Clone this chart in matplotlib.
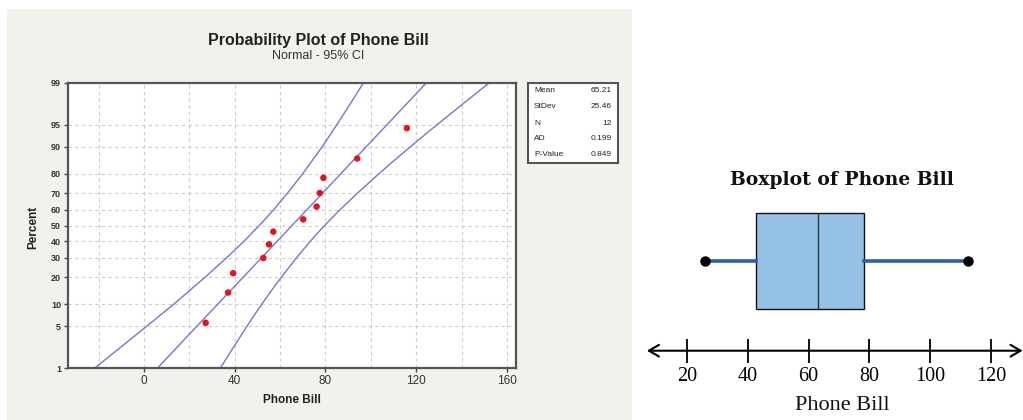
import numpy as np
import matplotlib
matplotlib.use("Agg")
import matplotlib.pyplot as plt
from matplotlib.patches import Rectangle
from matplotlib.ticker import FixedLocator, NullFormatter
from statistics import NormalDist

# ---------------- data ----------------
bill = [27.2, 37.1, 39.3, 52.6, 55.1, 57.0, 70.2, 76.1, 77.5, 79.1, 94.0, 115.9]
pct = [5.6, 13.7, 21.8, 29.8, 37.9, 46.0, 54.0, 62.1, 70.2, 78.2, 86.3, 94.4]

band_pct = [1, 2, 3, 5, 7, 10, 15, 20, 30, 40, 50, 60, 70, 80, 85, 90, 93, 95, 97, 98, 99]
fit_x = [6.0, 12.9, 17.3, 23.3, 27.6, 32.6, 38.8, 43.8, 51.9, 58.8, 65.2,
         71.7, 78.6, 86.7, 91.6, 97.9, 102.8, 107.1, 113.1, 117.5, 124.4]
lower_x = [-21.7, -12.5, -6.7, 1.2, 6.8, 13.2, 20.9, 27.0, 36.5, 44.2, 50.8,
           57.1, 63.2, 69.9, 73.7, 78.5, 82.0, 85.0, 89.1, 92.1, 96.7]
upper_x = [33.7, 38.3, 41.3, 45.4, 48.4, 52.0, 56.7, 60.6, 67.3, 73.4, 79.6,
           86.3, 94.0, 103.5, 109.5, 117.3, 123.6, 129.2, 137.1, 142.9, 152.1]

pct_ticks = [1, 5, 10, 20, 30, 40, 50, 60, 70, 80, 90, 95, 99]
bill_ticks = [0, 40, 80, 120, 160]
grid_minor = [-20, 20, 60, 100, 140]

stat_names = ["Mean", "StDev", "N", "AD", "P-Value"]
stat_values = ["65.21", "25.46", "12", "0.199", "0.849"]

box_min = 26.0
box_q1 = 42.8
box_med = 63.2
box_q3 = 78.1
box_max = 112.3
line_ticks = [20, 40, 60, 80, 100, 120]

# ---------------- figure ----------------
W, H = 1023, 420
fig = plt.figure(figsize=(W / 100, H / 100), dpi=100, facecolor="white")

def fx(px):
    return px / W

def fy(py):
    return 1 - py / H

# beige panel for the probability plot
fig.patches.append(Rectangle((fx(7), 0), fx(632) - fx(7), fy(9), transform=fig.transFigure,
                             facecolor="#f3f1ec", edgecolor="none", zorder=-10))

nd = NormalDist()
_inv = np.vectorize(lambda v: nd.inv_cdf(v / 100.0), otypes=[float])
_cdf = np.vectorize(lambda v: nd.cdf(v) * 100.0, otypes=[float])

def fwd(p):
    p = np.clip(np.asarray(p, dtype=float), 1e-9, 100 - 1e-9)
    return _inv(p)

def inv(z):
    return _cdf(np.asarray(z, dtype=float))

sans = ["Liberation Sans", "DejaVu Sans"]

ax = fig.add_axes([fx(68), fy(368), fx(516) - fx(68), fy(83) - fy(368)])
ax.set_zorder(2)
ax.set_facecolor("white")
ax.set_yscale("function", functions=(fwd, inv))
ax.set_ylim(1, 99)
ax.set_xlim(-33.5, 164)

ax.yaxis.set_major_locator(FixedLocator(pct_ticks))
ax.yaxis.set_minor_locator(FixedLocator([]))
ax.set_yticklabels([str(t) for t in pct_ticks], fontsize=6.5, fontweight="bold",
                   family=sans, color="#333333")
ax.xaxis.set_major_locator(FixedLocator(bill_ticks))
ax.xaxis.set_minor_locator(FixedLocator(grid_minor))
ax.xaxis.set_minor_formatter(NullFormatter())
ax.set_xticklabels([str(t) for t in bill_ticks], fontsize=8.5, family=sans, color="#333333")
ax.tick_params(axis="both", which="major", direction="out", length=3, width=1,
               color="#444444", pad=2)
ax.tick_params(axis="x", which="minor", length=0)

ax.grid(True, which="both", axis="x", color="#cccccc", linestyle=(0, (3, 3)), linewidth=0.8)
ax.grid(True, which="major", axis="y", color="#cccccc", linestyle=(0, (3, 3)), linewidth=0.8)
ax.set_axisbelow(True)
for s in ax.spines.values():
    s.set_color("#555555")
    s.set_linewidth(1.6)

line_col = "#7676cc"
ax.plot(lower_x, band_pct, color=line_col, lw=1.0, zorder=2)
ax.plot(fit_x, band_pct, color=line_col, lw=1.0, zorder=2)
ax.plot(upper_x, band_pct, color=line_col, lw=1.0, zorder=2)
ax.scatter(bill, pct, s=22, color="#e8121c", edgecolors="none", zorder=3)

fig.text(fx(318), fy(40), "Probability Plot of Phone Bill", ha="center", va="center",
         fontsize=11.5, fontweight="bold", family=sans, color="#222222")
fig.text(fx(318), fy(56), "Normal - 95% CI", ha="center", va="center",
         fontsize=9, family=sans, color="#333333")
fig.text(fx(33), fy(227), "Percent", ha="center", va="center", rotation=90,
         fontsize=8.5, fontweight="bold", family=sans, color="#222222")
fig.text(fx(292), fy(400), "Phone Bill", ha="center", va="center",
         fontsize=8.5, fontweight="bold", family=sans, color="#222222")

# stats box
fig.patches.append(Rectangle((fx(528), fy(163)), fx(618) - fx(528), fy(83) - fy(163),
                             transform=fig.transFigure, facecolor="white",
                             edgecolor="#555555", linewidth=1.5, zorder=5))
for i, (n, v) in enumerate(zip(stat_names, stat_values)):
    yy = 91 + 16 * i
    fig.text(fx(534), fy(yy), n, ha="left", va="center", fontsize=6, family=sans,
             color="#222222", zorder=6)
    fig.text(fx(612), fy(yy), v, ha="right", va="center", fontsize=6, family=sans,
             color="#222222", zorder=6)

# ---------------- boxplot panel ----------------
serif = ["Liberation Serif", "DejaVu Serif"]
bx = fig.add_axes([fx(640), 0, fx(1023) - fx(640), fy(160)])
bx.set_facecolor("white")
bx.set_xlim(4.66, 130.4)
bx.set_ylim(0, 260)

stats = [dict(med=box_med, q1=box_q1, q3=box_q3, whislo=box_min, whishi=box_max, fliers=[])]
bx.bxp(stats, positions=[159], widths=96.6, orientation="horizontal", patch_artist=True,
       showcaps=False, showfliers=False,
       boxprops=dict(facecolor="#95c1e6", edgecolor="#111111", linewidth=1.0),
       whiskerprops=dict(color="#2e5ea8", linewidth=2.6),
       medianprops=dict(color="#333333", linewidth=1.0))
bx.plot([box_min, box_max], [159, 159], "o", color="black", ms=6.5, zorder=5)

for s in ["top", "left", "right"]:
    bx.spines[s].set_visible(False)
bx.spines["bottom"].set_position(("data", 69.3))
bx.spines["bottom"].set_visible(False)
bx.set_yticks([])
bx.set_xticks(line_ticks)
bx.set_xticklabels([str(t) for t in line_ticks], fontsize=14.5, family=serif)
bx.tick_params(axis="x", direction="inout", length=17, width=1.3, pad=3, color="black")
bx.annotate("", xy=(0.018, 69.3), xytext=(0.999, 69.3),
            xycoords=("axes fraction", "data"), textcoords=("axes fraction", "data"),
            arrowprops=dict(arrowstyle="<->,head_length=0.6,head_width=0.35",
                            lw=1.5, color="black", mutation_scale=12,
                            shrinkA=0, shrinkB=0))

fig.text(fx(842), fy(180), "Boxplot of Phone Bill", ha="center", va="center",
         fontsize=13.5, fontweight="bold", family=["DejaVu Serif"], color="#111111")
fig.text(fx(842), fy(405), "Phone Bill", ha="center", va="center",
         fontsize=16, family=serif, color="#111111")

fig.savefig("out.png", dpi=100, facecolor="white")
